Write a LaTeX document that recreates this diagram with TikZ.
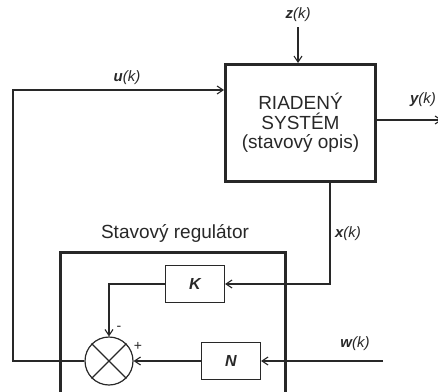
\documentclass[tikz,border=0pt]{standalone}
\usepackage{fontspec}
\setmainfont{Liberation Sans}
\usetikzlibrary{arrows.meta,calc}
\definecolor{ink}{RGB}{40,40,40}
\begin{document}
\begin{tikzpicture}[x=1pt,y=-1pt,
  every node/.style={text=ink},
  line/.style={draw=ink,line width=1.2pt},
  arr/.style={line,-{Straight Barb[length=6pt,width=8pt,line width=1.1pt]}},
  bigbox/.style={draw=ink,line width=3pt,minimum width=150pt,minimum height=117pt,align=center,inner sep=0pt,
    font=\fontsize{19}{19.5}\selectfont},
  smallbox/.style={draw=ink,line width=1.2pt,minimum width=59pt,minimum height=37pt,inner sep=0pt,
    font=\fontsize{16}{16}\selectfont\bfseries\itshape},
  sig/.style={font=\fontsize{15}{15}\selectfont\itshape,inner sep=0pt},
  sumnode/.style={draw=ink,line width=1.2pt,circle,minimum size=48pt,inner sep=0pt},
  small/.style={font=\fontsize{14}{14}\selectfont,inner sep=0pt}]
\useasboundingbox (0,0) rectangle (438,391);

\node[bigbox] (sys) at (300.5,123) {RIADENÝ\\SYSTÉM\\(stavový opis)};
\node[smallbox] (K) at (195,284) {K};
\node[smallbox] (N) at (231,361) {N};
\node[sumnode] (sum) at (109,361) {};
\draw[line] (sum.north west) -- (sum.south east) (sum.north east) -- (sum.south west);

% labels
\node[sig] (zl) at (298,15) {\textbf{z}(k)};
\node[sig] (ul) at (127,78) {\textbf{u}(k)};
\node[sig] (yl) at (423,100) {\textbf{y}(k)};
\node[sig] (xl) at (348,234) {\textbf{x}(k)};
\node[sig] (wl) at (355,344) {\textbf{w}(k)};
\node[small] (minus) at (119,328) {-};
\node[small] (plus) at (138,346) {+};
\node[font=\fontsize{19}{19}\selectfont,inner sep=0pt] (regl) at (175,233) {Stavový regulátor};

% regulator frame
\draw[draw=ink,line width=3pt] (60,400) |- (285,252) -- (285,400);

% coordinates
\coordinate (zin) at (298,27);
\coordinate (fb) at (13,90);
\coordinate (yend) at (442,120);
\coordinate (xc) at (330,284);
\coordinate (win) at (383,361);

% connectors
\draw[arr] (zin) -- (sys.north -| zin);
\draw[arr] (sum.west) -| (fb) -- (sys.west |- fb);
\draw[arr] (sys.east |- yend) -- (yend);
\draw[arr] (sys.south -| xc) |- (K.east);
\draw[arr] (K.west) -| (sum.north);
\draw[arr] (N.west) -- (sum.east);
\draw[arr] (win) -- (N.east);
\end{tikzpicture}
\end{document}
